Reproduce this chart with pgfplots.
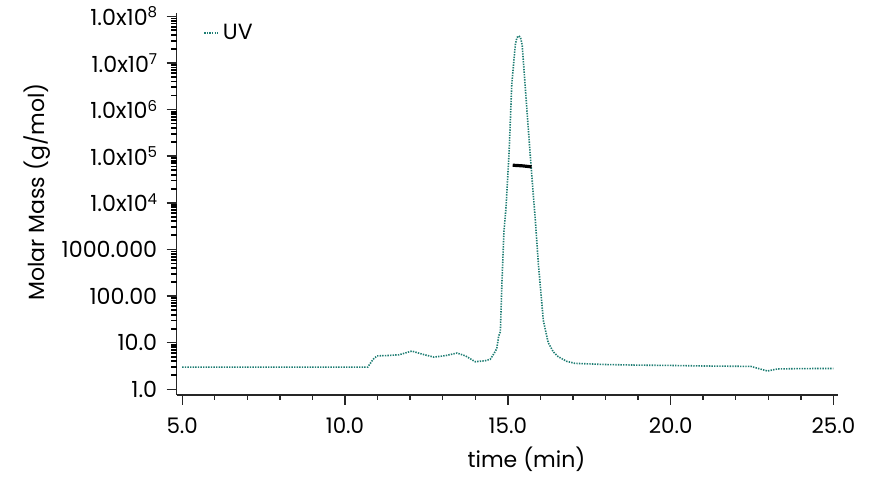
\documentclass[border=0pt]{standalone}
\usepackage{fontspec}
\setmainfont{Poppins}
\usepackage{pgfplots}
\pgfplotsset{compat=1.18}
\definecolor{uvteal}{RGB}{30,125,115}
\newcommand{\sx}[1]{\mbox{1.0x10\raisebox{0.62ex}{\fontsize{7.5}{8}\selectfont #1}}}

\begin{document}
\fontsize{10.7}{12}\selectfont
\begin{tikzpicture}
\useasboundingbox (-88.35pt,-43pt) rectangle (349.15pt,197.5pt);
\begin{axis}[
    at={(0,0)}, anchor=south west,
    scale only axis,
    width=330.65pt, height=190.85pt,
    ymode=log,
    xmin=4.83, xmax=25.14,
    ymin=0.755, ymax=1.16e8,
    axis lines=left,
    axis line style={-, line width=0.7pt, black!85},
    tick align=outside,
    major tick length=5pt,
    minor tick length=2.3pt,
    every tick/.style={line width=0.7pt, black!85},
    xtick={5,10,15,20,25},
    xticklabels={5.0,10.0,15.0,20.0,25.0},
    minor x tick num=4,
    ytick={1,10,100,1000,1e4,1e5,1e6,1e7,1e8},
    yticklabels={1.0,10.0,100.00,1000.000,\sx{4},\sx{5},\sx{6},\sx{7},\sx{8}},
    xticklabel style={font=\fontsize{10.7}{12}\selectfont, yshift=-2.5pt},
    yticklabel style={font=\fontsize{11.1}{12}\selectfont, xshift=-1pt},
    xlabel={time (min)},
    ylabel={Molar Mass (g/mol)},
    label style={font=\fontsize{11}{13}\selectfont},
    xlabel style={at={(axis description cs:0.529,0)}, anchor=base, yshift=-36.5pt},
    ylabel style={at={(axis description cs:0,0.532)}, anchor=center, rotate=0, yshift=69.85pt},
    legend style={at={(axis description cs:0,1)}, anchor=west,
      xshift=13.15pt, yshift=-9.85pt, draw=none, fill=none, inner sep=0pt,
      font=\fontsize{11}{13}\selectfont},
    legend image code/.code={\draw[#1] (0pt,0pt) -- (7pt,0pt);},
    legend cell align=left,
    clip=false,
]
% minor log ticks on the y axis (2..9 in every decade)
\pgfplotsinvokeforeach{2,3,4,5,6,7,8,9,
      20,30,40,50,60,70,80,90,
      200,300,400,500,600,700,800,900,
      2000,3000,4000,5000,6000,7000,8000,9000,
      2e4,3e4,4e4,5e4,6e4,7e4,8e4,9e4,
      2e5,3e5,4e5,5e5,6e5,7e5,8e5,9e5,
      2e6,3e6,4e6,5e6,6e6,7e6,8e6,9e6,
      2e7,3e7,4e7,5e7,6e7,7e7,8e7,9e7}{
  \draw[line width=0.9pt, black] (axis cs:4.83,#1) -- ++(-3pt,0pt);
}
\addplot[uvteal, line width=0.8pt, dash pattern=on 0.7pt off 0.6pt] coordinates {
    (5.0,3.0) (7.5,3.0) (10.0,3.0) (10.7,3.0) (10.85,4.3) (10.98,5.2)
    (11.3,5.3) (11.66,5.5) (12.05,6.6) (12.4,5.6) (12.73,4.9) (13.1,5.3)
    (13.44,6.0) (13.7,5.2) (14.0,3.9) (14.3,4.1) (14.46,4.4) (14.61,6.4)
    (14.66,7.5) (14.72,14) (14.77,17) (14.82,200) (14.88,2400)
    (14.945,8000) (15.04,1.26e5) (15.12,3.4e6) (15.23,2.45e7)
    (15.28,3.5e7) (15.34,3.8e7) (15.39,3.5e7) (15.44,2.45e7)
    (15.53,3.4e6) (15.68,1.26e5) (15.79,12600) (15.84,4700)
    (15.94,470) (16.09,30) (16.24,10) (16.4,6.3) (16.55,5.0)
    (16.8,4.0) (17.06,3.6) (18.0,3.4) (19.0,3.3) (20.0,3.25)
    (21.04,3.16) (22.46,3.1) (22.97,2.47) (23.28,2.73) (24.0,2.78)
    (25.0,2.8)
};
\addlegendentry{UV}
\addplot[black, line width=1.6pt, forget plot] coordinates {
    (15.15,6.4e4) (15.45,6.2e4) (15.73,5.9e4)
};
\end{axis}
\end{tikzpicture}
\end{document}
